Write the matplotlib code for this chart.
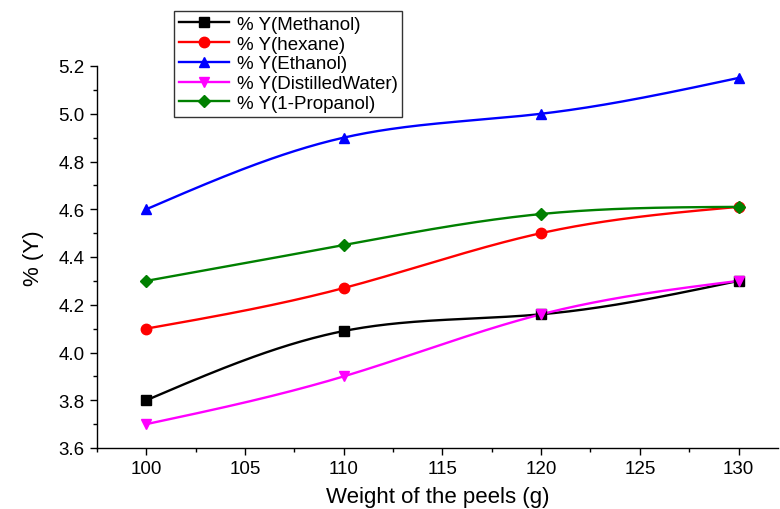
import numpy as np
import matplotlib
matplotlib.use("Agg")
import matplotlib.pyplot as plt
from matplotlib.ticker import MultipleLocator

plt.rcParams['font.family'] = ['Liberation Sans', 'DejaVu Sans']

weights = [100, 110, 120, 130]
methanol = [3.80, 4.09, 4.16, 4.30]
hexane = [4.10, 4.27, 4.50, 4.61]
ethanol = [4.60, 4.90, 5.00, 5.15]
water = [3.70, 3.90, 4.16, 4.30]
propanol = [4.30, 4.45, 4.58, 4.61]

series = [
    ("% Y(Methanol)", methanol, "black", "s"),
    ("% Y(hexane)", hexane, "red", "o"),
    ("% Y(Ethanol)", ethanol, "blue", "^"),
    ("% Y(DistilledWater)", water, "magenta", "v"),
    ("% Y(1-Propanol)", propanol, "green", "D"),
]


def natural_spline(x, y, n=200):
    x = np.asarray(x, float)
    y = np.asarray(y, float)
    m = len(x)
    h = np.diff(x)
    A = np.zeros((m, m))
    b = np.zeros(m)
    A[0, 0] = 1
    A[-1, -1] = 1
    for i in range(1, m - 1):
        A[i, i - 1] = h[i - 1]
        A[i, i] = 2 * (h[i - 1] + h[i])
        A[i, i + 1] = h[i]
        b[i] = 3 * ((y[i + 1] - y[i]) / h[i] - (y[i] - y[i - 1]) / h[i - 1])
    c = np.linalg.solve(A, b)
    xs = np.linspace(x[0], x[-1], n)
    ys = np.empty_like(xs)
    for k, xv in enumerate(xs):
        i = min(np.searchsorted(x, xv, side='right') - 1, m - 2)
        dx = xv - x[i]
        bi = (y[i + 1] - y[i]) / h[i] - h[i] * (2 * c[i] + c[i + 1]) / 3
        di = (c[i + 1] - c[i]) / (3 * h[i])
        ys[k] = y[i] + bi * dx + c[i] * dx ** 2 + di * dx ** 3
    return xs, ys


fig = plt.figure(figsize=(7.8, 5.1), dpi=100)
ax = fig.add_axes([97 / 780, 1 - 449 / 510, 681 / 780, (449 - 67) / 510])

for label, vals, col, mk in series:
    ms = 7.5 if mk != 'D' else 6.5
    xs, ys = natural_spline(weights, vals)
    ax.plot(xs, ys, color=col, lw=1.7, zorder=2)
    ax.plot(weights, vals, linestyle='none', marker=mk, color=col,
            markersize=ms, zorder=3, clip_on=False)
    ax.plot([], [], color=col, lw=1.7, marker=mk, markersize=ms, label=label)

ax.set_xlim(97.5, 132)
ax.set_ylim(3.6, 5.2)
ax.xaxis.set_major_locator(MultipleLocator(5))
ax.xaxis.set_minor_locator(MultipleLocator(2.5))
yt = np.arange(3.6, 5.21, 0.2)
ax.set_yticks(yt)
ax.set_yticklabels([f"{v:.1f}" for v in yt])
ax.yaxis.set_minor_locator(MultipleLocator(0.1))

for s in ['top', 'right']:
    ax.spines[s].set_visible(False)
for s in ['left', 'bottom']:
    ax.spines[s].set_linewidth(1.0)
ax.tick_params(which='major', direction='out', length=5, width=1, labelsize=13.5,
               colors='black', pad=4)
ax.tick_params(which='minor', direction='out', length=3, width=1)

ax.set_xlabel("Weight of the peels (g)", fontsize=16, labelpad=6)
ax.set_ylabel("% (Y)", fontsize=16, labelpad=10)

leg = fig.legend(loc='upper left', bbox_to_anchor=(174 / 780, 1 - 12 / 510),
                 fontsize=13.5, frameon=True, fancybox=False, edgecolor='black',
                 handlelength=2.7, handletextpad=0.4, labelspacing=0.14,
                 borderpad=0.25, borderaxespad=0)
leg.get_frame().set_linewidth(1.0)

fig.savefig("out.png", dpi=100)
